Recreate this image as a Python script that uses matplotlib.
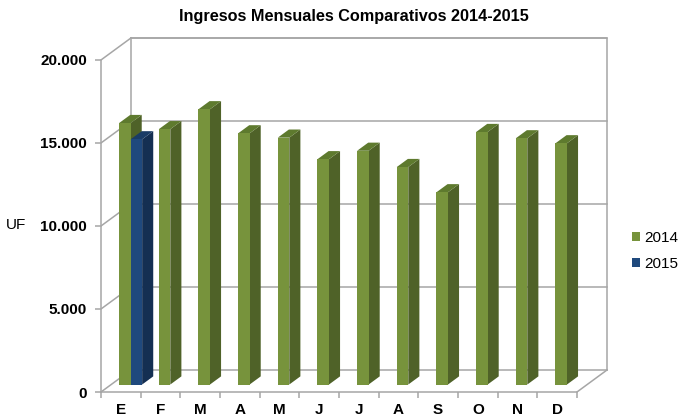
import matplotlib
matplotlib.use("Agg")
import matplotlib.pyplot as plt
from matplotlib.patches import Polygon, Patch

plt.rcParams['font.family'] = ['Liberation Sans', 'DejaVu Sans']

# ---- data ----
months = ['E', 'F', 'M', 'A', 'M', 'J', 'J', 'A', 'S', 'O', 'N', 'D']
v2014 = [15750, 15380, 16580, 15130, 14870, 13570, 14080, 13100, 11580, 15210, 14830, 14530]
v2015 = [14770]
yticks = [0, 5000, 10000, 15000, 20000]
ytick_labels = ['0', '5.000', '10.000', '15.000', '20.000']
series_names = ['2014', '2015']
title = 'Ingresos Mensuales Comparativos 2014-2015'

# ---- styling / geometry ----
GREEN = ('#77933C', '#4F6228', '#5E7A2E')   # front, side, top
BLUE = ('#1F497D', '#142F52', '#1A3C66')
GRID = '#A6A6A6'
DX, DY = 0.756, 1325.0        # depth of the 3D box in data units
S0 = 0.34                     # bar front offset as fraction of depth
BD = 0.37                     # bar depth as fraction of depth
BW = 0.29                     # bar width
OFF = [0.20, 0.49]            # bar left offsets within category (front plane)

fig = plt.figure(figsize=(6.79, 4.20), dpi=100)
ax = fig.add_axes([101/679, 28/420, 509.7/679, 358.6/420])
ax.set_xlim(0, 12.85)
ax.set_ylim(0, 21600)

lw = 1.1
# back wall
ax.plot([DX, 12+DX, 12+DX], [20000+DY, 20000+DY, DY], color=GRID, lw=lw, zorder=1)
ax.plot([DX, DX], [DY, 20000+DY], color=GRID, lw=lw, zorder=1)
for v in yticks:
    ax.plot([DX, 12+DX], [v+DY, v+DY], color=GRID, lw=lw, zorder=1)
    ax.plot([0, DX], [v, v+DY], color=GRID, lw=lw, zorder=1)
# floor right edge
ax.plot([12, 12+DX], [0, DY], color=GRID, lw=lw, zorder=1)

sx, sy = S0*DX, S0*DY
bx, by = BD*DX, BD*DY

def draw_series(vals, off, cols, z):
    lefts = [i + off + sx for i in range(len(vals))]
    for i, (x0, v) in enumerate(zip(lefts, vals)):
        y0 = sy
        y1 = sy + v
        x1 = x0 + BW
        side = Polygon([(x1, y0), (x1+bx, y0+by), (x1+bx, y1+by), (x1, y1)],
                       closed=True, facecolor=cols[1], edgecolor='none', zorder=z+i*3)
        top = Polygon([(x0, y1), (x1, y1), (x1+bx, y1+by), (x0+bx, y1+by)],
                      closed=True, facecolor=cols[2], edgecolor='none', zorder=z+i*3+1)
        ax.add_patch(side)
        ax.add_patch(top)
    bars = ax.bar(lefts, vals, width=BW, bottom=sy, align='edge',
                  color=cols[0], edgecolor='none')
    for i, b in enumerate(bars):
        b.set_zorder(z + i*3 + 2)

draw_series(v2014, OFF[0], GREEN, 10)
draw_series(v2015, OFF[1], BLUE, 11.5)

# axes
for s in ['top', 'right']:
    ax.spines[s].set_visible(False)
ax.spines['left'].set_bounds(0, 20000)
ax.spines['bottom'].set_bounds(0, 12)
for s in ['left', 'bottom']:
    ax.spines[s].set_color(GRID)
    ax.spines[s].set_linewidth(lw)

ax.set_yticks(yticks)
ax.set_yticklabels(ytick_labels, fontsize=11, fontweight='bold')
ax.tick_params(axis='y', length=4, width=lw, color=GRID, pad=6)
ax.set_xticks([i + 0.5 for i in range(12)])
ax.set_xticklabels(months, fontsize=11, fontweight='bold')
ax.set_xticks(list(range(13)), minor=True)
ax.tick_params(axis='x', which='major', length=0, pad=8)
ax.tick_params(axis='x', which='minor', length=4, width=lw, color=GRID)

fig.text(354/679, 1-16/420, title, ha='center', va='center', fontsize=11.7, fontweight='bold')
fig.text(16/679, 1-225/420, 'UF', ha='center', va='center', fontsize=11)

handles = [Patch(facecolor=GREEN[0], edgecolor='none'), Patch(facecolor=BLUE[0], edgecolor='none')]
fig.legend(handles, series_names, loc='center left', bbox_to_anchor=(618/679, 1-251/420),
           frameon=False, fontsize=11, handlelength=0.55, handleheight=0.55,
           handletextpad=0.3, labelspacing=0.75)

fig.savefig('out.png', dpi=100)
